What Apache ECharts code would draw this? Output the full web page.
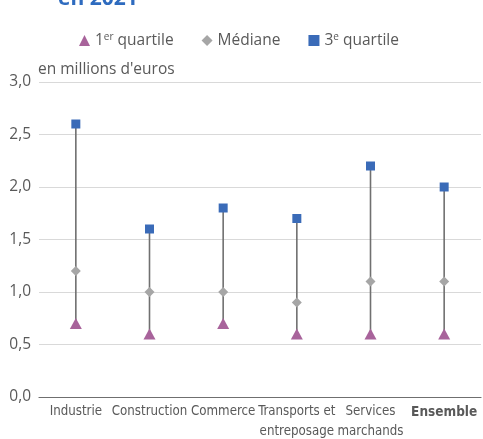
<!DOCTYPE html>
<html><head><meta charset="utf-8">
<script src="https://cdn.jsdelivr.net/npm/echarts@6/dist/echarts.min.js"></script>
<style>html,body{margin:0;padding:0;background:#fff}#c{width:483px;height:439px}</style>
</head><body><div id="c"></div>
<script>
const categories = ['Industrie','Construction','Commerce','Transports et\nentreposage','Services\nmarchands','Ensemble'];
const q1 = [0.7, 0.6, 0.7, 0.6, 0.6, 0.6];
const median = [1.2, 1.0, 1.0, 0.9, 1.1, 1.1];
const q3 = [2.6, 1.6, 1.8, 1.7, 2.2, 2.0];

const chart = echarts.init(document.getElementById('c'));
const FONT = "'Open Sans', 'Noto Sans', sans-serif";
const NARROW = "'Liberation Sans Narrow', 'DejaVu Sans Condensed', sans-serif";
chart.setOption({
  animation: false,
  textStyle: {fontFamily: FONT},
  graphic: [{type:'text', left: 58, top: -11, style:{text:'en 2021', fill:'#2e6bbf', font:"bold 21px 'Open Sans', sans-serif"}}],
  legend: {
    top: 27, left: 74, itemGap: 28, itemWidth: 11, itemHeight: 11,
    textStyle: {color:'#595959', fontSize: 15.5, fontFamily: FONT,
      rich: {sup:{fontSize: 10, verticalAlign:'top', color:'#595959', padding:[0,0,7,0]}, n:{fontSize:15.5,color:'#595959'}}},
    formatter: function(name){
      if (name === '1er quartile') return '{n|1}{sup|er}{n| quartile}';
      if (name === '3e quartile') return '{n|3}{sup|e}{n| quartile}';
      return '{n|' + name + '}';
    },
    data: [{name:'1er quartile', icon:'triangle'}, {name:'Médiane', icon:'diamond'}, {name:'3e quartile', icon:'rect'}]
  },
  grid: {left: 39, right: 2, top: 82, bottom: 42, outerBoundsMode: 'none', containLabel: false},
  xAxis: {
    type: 'category', data: categories,
    axisLine: {lineStyle: {color:'#6f6f6f', width: 1.2}},
    axisTick: {show: false},
    axisLabel: {color:'#595959', fontSize: 13.2, fontFamily: NARROW, interval: 0, margin: 5, lineHeight: 20,
      formatter: function(v){ return v === 'Ensemble' ? '{b|Ensemble}' : v; },
      rich: {b: {fontWeight:'bold', fontSize: 13.5, fontFamily: NARROW, color:'#595959', lineHeight: 20}}}
  },
  yAxis: {
    type: 'value', min: 0, max: 3, interval: 0.5,
    name: "en millions d'euros", nameLocation: 'end', nameGap: 4,
    nameTextStyle: {color:'#595959', fontSize: 15.5, align:'left', padding:[0,0,0,-1]},
    axisLine: {show: false}, axisTick: {show: false},
    axisLabel: {color:'#595959', fontSize: 15.5, margin: 8, formatter: v => v.toFixed(1).replace('.', ',')},
    splitLine: {lineStyle: {color:'#d9d9d9', width: 1}}
  },
  series: [
    {
      type: 'custom', name: 'range', silent: true, z: 1,
      data: categories.map((c,i) => [i, q1[i], q3[i]]),
      renderItem: function(params, api){
        const a = api.coord([api.value(0), api.value(1)]);
        const b = api.coord([api.value(0), api.value(2)]);
        return {type:'line', shape:{x1:a[0], y1:a[1], x2:b[0], y2:b[1]}, style:{stroke:'#707070', lineWidth: 1.6}};
      }
    },
    {type:'scatter', name:'1er quartile', data: q1, symbol:'triangle', symbolSize:[12,11], itemStyle:{color:'#a8639b', opacity:1}, z: 3},
    {type:'scatter', name:'Médiane', data: median, symbol:'diamond', symbolSize:[10,10], itemStyle:{color:'#a6a6a6', opacity:1}, z: 3},
    {type:'scatter', name:'3e quartile', data: q3, symbol:'rect', symbolSize:[9,9], itemStyle:{color:'#3a6bb8', opacity:1}, z: 3}
  ]
});
</script></body></html>
